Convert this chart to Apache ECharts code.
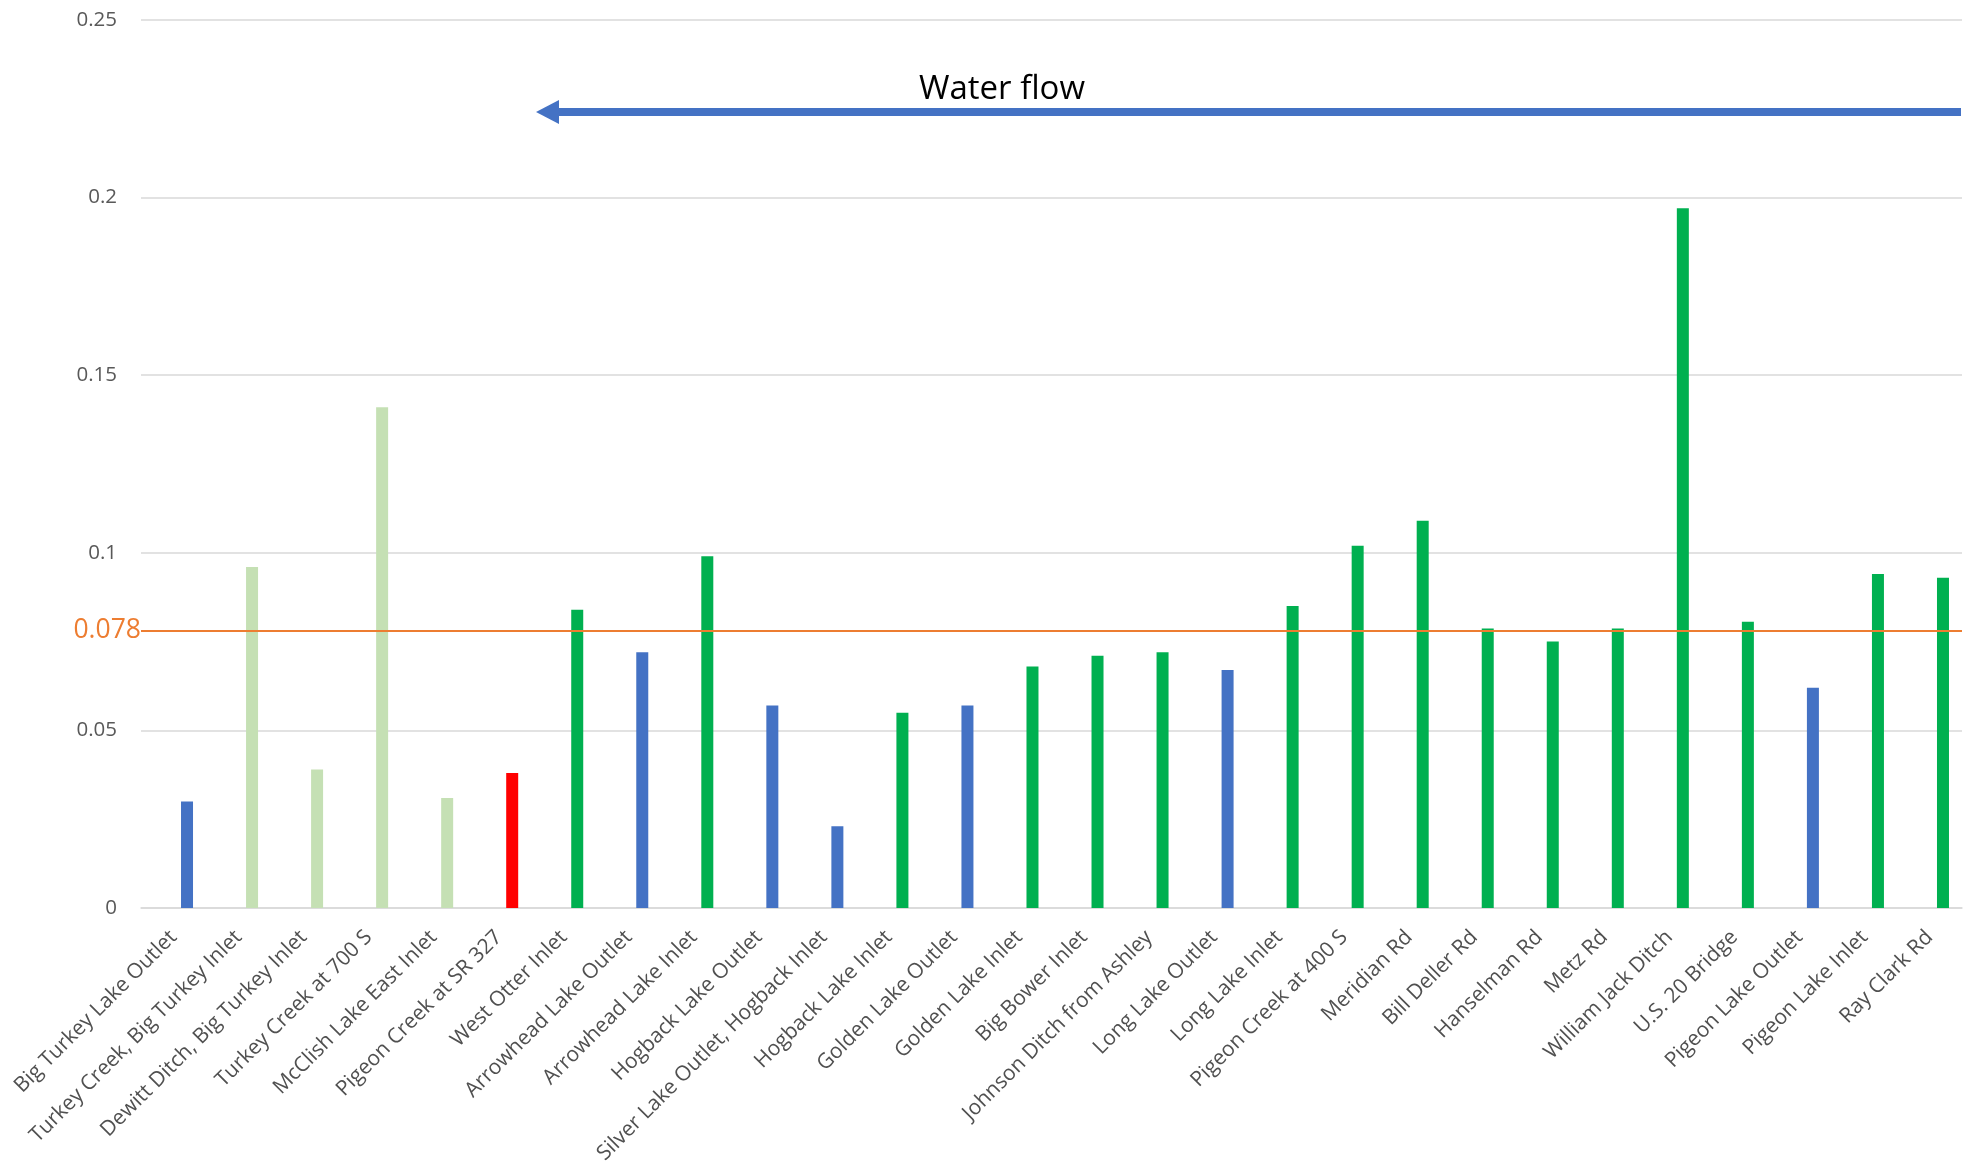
<!DOCTYPE html>
<html>
<head>
<meta charset="utf-8">
<script src="https://cdn.jsdelivr.net/npm/echarts@6/dist/echarts.min.js"></script>
<style>
html,body{margin:0;padding:0;background:#fff;}
#chart{width:1977px;height:1164px;}
</style>
</head>
<body>
<div id="chart"></div>
<script>
const sites = [
  "Big Turkey Lake Outlet", "Turkey Creek, Big Turkey Inlet", "Dewitt Ditch, Big Turkey Inlet",
  "Turkey Creek at 700 S", "McClish Lake East Inlet", "Pigeon Creek at SR 327", "West Otter Inlet",
  "Arrowhead Lake Outlet", "Arrowhead Lake Inlet", "Hogback Lake Outlet", "Silver Lake Outlet, Hogback Inlet",
  "Hogback Lake Inlet", "Golden Lake Outlet", "Golden Lake Inlet", "Big Bower Inlet",
  "Johnson Ditch from Ashley", "Long Lake Outlet", "Long Lake Inlet", "Pigeon Creek at 400 S",
  "Meridian Rd", "Bill Deller Rd", "Hanselman Rd", "Metz Rd", "William Jack Ditch",
  "U.S. 20 Bridge", "Pigeon Lake Outlet", "Pigeon Lake Inlet", "Ray Clark Rd"
];
const values = [
  0.030, 0.096, 0.039, 0.141, 0.031, 0.038, 0.084,
  0.072, 0.099, 0.057, 0.023,
  0.055, 0.057, 0.068, 0.071,
  0.072, 0.067, 0.085, 0.102,
  0.109, 0.0787, 0.075, 0.0787, 0.197,
  0.0806, 0.062, 0.094, 0.093
];
const siteTypes = [
  "outlet", "tributary", "tributary", "tributary", "tributary", "reference", "inlet",
  "outlet", "inlet", "outlet", "outlet",
  "inlet", "outlet", "inlet", "inlet",
  "inlet", "outlet", "inlet", "inlet",
  "inlet", "inlet", "inlet", "inlet", "inlet",
  "inlet", "outlet", "inlet", "inlet"
];
const thresholdValue = 0.078;
const yTicks = { min: 0, max: 0.25, interval: 0.05 };

const typeColors = {
  outlet: "#4472C4",
  tributary: "#C5E0B4",
  reference: "#FF0000",
  inlet: "#00B050"
};

const chart = echarts.init(document.getElementById('chart'), null, { renderer: 'canvas' });
const FONT = '"Open Sans", "Noto Sans", sans-serif';

chart.setOption({
  animation: false,
  backgroundColor: '#ffffff',
  grid: { left: 141, right: 15, top: 20, bottom: 256, containLabel: false, outerBoundsMode: 'none' },
  xAxis: {
    type: 'category',
    data: sites,
    axisLine: { show: true, lineStyle: { color: '#D9D9D9', width: 1.5 } },
    axisTick: { show: false },
    axisLabel: {
      interval: 0,
      rotate: 45,
      margin: 26,
      color: '#505050',
      fontSize: 21,
      fontFamily: FONT
    },
    splitLine: { show: false }
  },
  yAxis: {
    type: 'value',
    min: yTicks.min,
    max: yTicks.max,
    interval: yTicks.interval,
    axisLine: { show: false },
    axisTick: { show: false },
    axisLabel: {
      margin: 24,
      color: '#595959',
      fontSize: 20.5,
      fontFamily: FONT
    },
    splitLine: { show: true, lineStyle: { color: '#D9D9D9', width: 1.5 } }
  },
  series: [
    {
      // empty spacer series (clustered slot left of the plotted bar)
      type: 'bar',
      barWidth: 12,
      barGap: '125%',
      data: sites.map(() => null),
      silent: true
    },
    {
      type: 'bar',
      barWidth: 12,
      barGap: '125%',
      data: values.map((v, i) => ({ value: v, itemStyle: { color: typeColors[siteTypes[i]] } })),
      markLine: {
        silent: true,
        precision: 4,
        symbol: ['none', 'none'],
        lineStyle: { color: '#ED7D31', width: 2, type: 'solid' },
        label: {
          show: true,
          position: 'start',
          distance: 0,
          formatter: String(thresholdValue),
          color: '#ED7D31',
          fontSize: 26.5,
          fontFamily: FONT
        },
        data: [{ yAxis: thresholdValue }]
      }
    }
  ],
  graphic: [
    {
      type: 'line',
      shape: { x1: 556, y1: 112, x2: 1961, y2: 112 },
      style: { stroke: '#4472C4', lineWidth: 8 }
    },
    {
      type: 'polygon',
      shape: { points: [[536, 112], [559, 100], [559, 124]] },
      style: { fill: '#4472C4' }
    },
    {
      type: 'text',
      x: 1002,
      y: 90,
      style: {
        text: 'Water flow',
        fill: '#000000',
        font: '33px ' + FONT,
        textAlign: 'center',
        textVerticalAlign: 'middle'
      }
    }
  ]
});
</script>
</body>
</html>
